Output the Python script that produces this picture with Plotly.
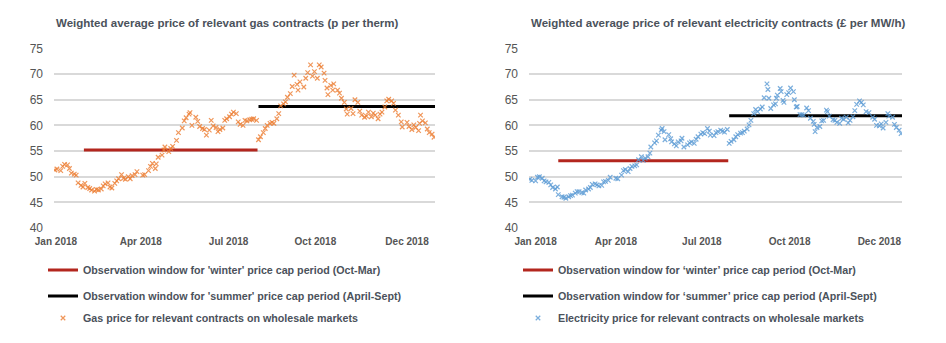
import plotly.graph_objects as go

# ---------------- data ----------------
gas_dates = [
    "2018-01-02", "2018-01-04", "2018-01-08", "2018-01-10", "2018-01-12", "2018-01-15", "2018-01-17", "2018-01-19",
    "2018-01-22", "2018-01-24", "2018-01-26", "2018-01-29", "2018-01-31", "2018-02-02", "2018-02-05", "2018-02-07",
    "2018-02-09", "2018-02-12", "2018-02-14", "2018-02-16", "2018-02-19", "2018-02-21", "2018-02-23", "2018-02-26",
    "2018-02-28", "2018-03-02", "2018-03-05", "2018-03-07", "2018-03-09", "2018-03-12", "2018-03-14", "2018-03-16",
    "2018-03-19", "2018-03-21", "2018-03-23", "2018-03-26", "2018-03-28", "2018-04-03", "2018-04-05", "2018-04-09",
    "2018-04-11", "2018-04-13", "2018-04-16", "2018-04-17", "2018-04-19", "2018-04-23", "2018-04-25", "2018-04-26",
    "2018-04-30", "2018-05-02", "2018-05-04", "2018-05-08", "2018-05-10", "2018-05-14", "2018-05-16", "2018-05-18",
    "2018-05-21", "2018-05-22", "2018-05-24", "2018-05-28", "2018-05-30", "2018-06-01", "2018-06-04", "2018-06-06",
    "2018-06-08", "2018-06-11", "2018-06-13", "2018-06-15", "2018-06-18", "2018-06-20", "2018-06-22", "2018-06-25",
    "2018-06-27", "2018-06-29", "2018-07-02", "2018-07-04", "2018-07-06", "2018-07-09", "2018-07-11", "2018-07-13",
    "2018-07-16", "2018-07-18", "2018-07-20", "2018-07-23", "2018-07-25", "2018-07-27", "2018-07-30", "2018-08-01",
    "2018-08-03", "2018-08-06", "2018-08-08", "2018-08-10", "2018-08-13", "2018-08-15", "2018-08-17", "2018-08-20",
    "2018-08-22", "2018-08-24", "2018-08-27", "2018-08-29", "2018-08-31", "2018-09-03", "2018-09-05", "2018-09-07",
    "2018-09-10", "2018-09-11", "2018-09-13", "2018-09-17", "2018-09-19", "2018-09-21", "2018-09-24", "2018-09-26",
    "2018-09-28", "2018-10-01", "2018-10-03", "2018-10-05", "2018-10-08", "2018-10-09", "2018-10-11", "2018-10-12",
    "2018-10-15", "2018-10-17", "2018-10-18", "2018-10-22", "2018-10-24", "2018-10-26", "2018-10-29", "2018-10-31",
    "2018-11-01", "2018-11-05", "2018-11-07", "2018-11-09", "2018-11-12", "2018-11-14", "2018-11-16", "2018-11-19",
    "2018-11-21", "2018-11-23", "2018-11-26", "2018-11-28", "2018-11-30", "2018-12-03", "2018-12-05", "2018-12-07",
    "2018-12-10", "2018-12-12", "2018-12-14", "2018-12-17", "2018-12-19", "2018-12-21", "2018-12-24", "2018-12-27",
    "2018-12-28", "2019-01-02", "2019-01-04", "2019-01-07", "2019-01-09", "2019-01-11", "2019-01-14", "2019-01-15",
    "2019-01-16", "2019-01-18", "2019-01-21", "2019-01-23", "2019-01-25", "2019-01-28", "2019-01-30",
]
gas_values = [
    51.3, 51.5, 51.2, 52.0, 52.4, 52.3, 51.6, 50.7,
    50.5, 50.3, 48.8, 48.3, 48.0, 48.7, 47.9, 47.7,
    47.4, 47.2, 47.5, 47.4, 47.6, 48.2, 48.6, 48.8,
    48.0, 47.8, 48.7, 49.2, 49.6, 50.4, 49.7, 49.5,
    50.0, 49.6, 50.2, 50.4, 51.0, 50.3, 50.4, 51.2,
    52.0, 52.6, 51.6, 52.5, 53.8, 54.2, 55.2, 55.8,
    54.9, 55.5, 55.9, 57.1, 58.6, 59.5, 60.9, 61.5,
    62.2, 62.5, 60.0, 61.6, 60.8, 59.8, 59.4, 59.2,
    58.1, 59.1, 61.0, 59.9, 59.6, 58.8, 59.2, 59.5,
    61.0, 61.3, 61.7, 62.2, 62.6, 62.3, 60.7, 60.2,
    60.0, 61.0, 60.9, 61.1, 61.2, 61.3, 61.0, 57.2,
    57.8, 58.6, 59.4, 60.0, 60.4, 60.6, 60.4, 61.3,
    62.3, 63.8, 64.2, 64.6, 65.5, 66.2, 67.6, 69.8,
    68.0, 66.9, 68.5, 67.5, 69.2, 70.3, 71.8, 69.6,
    70.5, 69.2, 71.8, 71.4, 70.2, 68.8, 67.3, 66.0,
    67.8, 66.9, 68.1, 66.9, 66.3, 65.3, 64.5, 63.2,
    62.2, 63.3, 62.3, 65.0, 64.5, 62.8, 62.0, 61.6,
    61.8, 62.6, 61.7, 62.4, 62.0, 61.3, 62.2, 62.6,
    63.6, 64.8, 65.1, 64.8, 64.3, 63.0, 62.0, 60.7,
    59.7, 60.6, 59.8, 59.2, 60.1, 59.6, 59.0, 60.4,
    62.0, 60.9, 60.5, 59.3, 58.6, 58.3, 57.7,
]

elec_dates = [
    "2018-01-02", "2018-01-04", "2018-01-08", "2018-01-10", "2018-01-12", "2018-01-15", "2018-01-17", "2018-01-19",
    "2018-01-22", "2018-01-24", "2018-01-26", "2018-01-29", "2018-01-31", "2018-02-01", "2018-02-05", "2018-02-07",
    "2018-02-09", "2018-02-12", "2018-02-14", "2018-02-16", "2018-02-19", "2018-02-21", "2018-02-23", "2018-02-26",
    "2018-02-28", "2018-03-02", "2018-03-05", "2018-03-07", "2018-03-09", "2018-03-12", "2018-03-14", "2018-03-16",
    "2018-03-19", "2018-03-21", "2018-03-23", "2018-03-26", "2018-03-28", "2018-04-03", "2018-04-05", "2018-04-09",
    "2018-04-11", "2018-04-13", "2018-04-16", "2018-04-18", "2018-04-20", "2018-04-23", "2018-04-25", "2018-04-27",
    "2018-04-30", "2018-05-02", "2018-05-04", "2018-05-07", "2018-05-09", "2018-05-10", "2018-05-14", "2018-05-16",
    "2018-05-18", "2018-05-21", "2018-05-22", "2018-05-24", "2018-05-25", "2018-05-29", "2018-05-31", "2018-06-01",
    "2018-06-04", "2018-06-06", "2018-06-08", "2018-06-11", "2018-06-12", "2018-06-14", "2018-06-18", "2018-06-20",
    "2018-06-22", "2018-06-25", "2018-06-27", "2018-06-29", "2018-07-02", "2018-07-04", "2018-07-06", "2018-07-09",
    "2018-07-11", "2018-07-12", "2018-07-16", "2018-07-18", "2018-07-20", "2018-07-23", "2018-07-25", "2018-07-27",
    "2018-07-30", "2018-08-01", "2018-08-03", "2018-08-06", "2018-08-08", "2018-08-10", "2018-08-13", "2018-08-15",
    "2018-08-17", "2018-08-20", "2018-08-22", "2018-08-24", "2018-08-27", "2018-08-29", "2018-08-31", "2018-09-03",
    "2018-09-05", "2018-09-07", "2018-09-10", "2018-09-11", "2018-09-12", "2018-09-14", "2018-09-17", "2018-09-19",
    "2018-09-20", "2018-09-21", "2018-09-24", "2018-09-25", "2018-09-27", "2018-09-28", "2018-10-01", "2018-10-03",
    "2018-10-05", "2018-10-08", "2018-10-09", "2018-10-11", "2018-10-12", "2018-10-15", "2018-10-17", "2018-10-19",
    "2018-10-22", "2018-10-24", "2018-10-26", "2018-10-29", "2018-10-30", "2018-10-31", "2018-11-02", "2018-11-05",
    "2018-11-07", "2018-11-09", "2018-11-12", "2018-11-13", "2018-11-15", "2018-11-19", "2018-11-21", "2018-11-23",
    "2018-11-26", "2018-11-28", "2018-11-30", "2018-12-03", "2018-12-05", "2018-12-07", "2018-12-10", "2018-12-12",
    "2018-12-14", "2018-12-17", "2018-12-19", "2018-12-21", "2018-12-24", "2018-12-27", "2018-12-31", "2019-01-02",
    "2019-01-04", "2019-01-07", "2019-01-09", "2019-01-11", "2019-01-14", "2019-01-16", "2019-01-17", "2019-01-21",
    "2019-01-23", "2019-01-25", "2019-01-28", "2019-01-30",
]
elec_values = [
    49.5, 49.3, 49.2, 49.9, 50.0, 49.7, 49.2, 49.0,
    48.9, 48.4, 47.9, 47.6, 48.0, 46.5, 46.1, 46.0,
    45.8, 46.1, 46.3, 46.4, 46.8, 47.1, 47.1, 46.9,
    46.8, 47.4, 47.6, 47.9, 48.5, 48.6, 48.4, 48.2,
    48.3, 49.0, 49.1, 49.3, 49.9, 49.7, 49.6, 50.3,
    51.2, 51.4, 51.0, 51.6, 52.0, 52.1, 52.3, 53.3,
    53.9, 53.2, 53.6, 53.9, 54.6, 55.8, 56.6, 57.0,
    58.1, 59.1, 59.4, 58.8, 57.2, 58.2, 57.4, 56.8,
    56.4, 56.0, 56.8, 57.0, 57.5, 55.8, 56.2, 56.6,
    56.8, 56.5, 57.3, 57.8, 58.3, 58.6, 58.4, 59.4,
    58.9, 58.1, 58.0, 58.6, 58.8, 59.1, 58.9, 58.7,
    59.2, 56.5, 56.9, 57.2, 57.8, 58.2, 58.5, 58.6,
    58.9, 59.3, 60.1, 61.0, 62.3, 63.1, 62.7, 63.2,
    63.6, 65.4, 68.1, 67.0, 65.3, 63.3, 64.0, 64.2,
    65.3, 65.9, 67.2, 66.6, 64.9, 64.5, 66.0, 66.4,
    67.3, 66.6, 65.0, 63.6, 63.7, 62.1, 62.1, 62.0,
    63.4, 62.9, 61.4, 60.8, 60.2, 58.8, 59.6, 59.8,
    60.9, 61.0, 63.0, 62.7, 61.8, 61.1, 61.0, 60.6,
    60.4, 61.4, 61.2, 61.6, 60.5, 61.0, 61.7, 62.9,
    64.1, 64.8, 64.5, 64.0, 62.7, 62.5, 61.6, 61.2,
    60.0, 59.9, 60.3, 59.5, 60.6, 62.3, 61.8, 61.6,
    60.2, 59.6, 59.1, 58.4,
]

winter_window = ["2018-02-01", "2018-07-31"]
summer_window = ["2018-08-01", "2019-01-31"]
gas_winter_level = 55.2
gas_summer_level = 63.7
elec_winter_level = 53.1
elec_summer_level = 61.9

tick_labels = ["Jan 2018", "Apr 2018", "Jul 2018", "Oct 2018", "Dec 2018"]
gas_tick_dates = ["2018-01-03", "2018-04-01", "2018-07-01", "2018-09-29", "2019-01-02"]
elec_tick_dates = ["2018-01-08", "2018-04-03", "2018-07-03", "2018-10-04", "2019-01-07"]
x_range = ["2018-01-01", "2019-01-31"]
y_ticks = [40, 45, 50, 55, 60, 65, 70, 75]

titles = [
    "Weighted average price of relevant gas contracts (p per therm)",
    "Weighted average price of relevant electricity contracts (£ per MW/h)",
]
legend_winter_gas = "Observation window for 'winter' price cap period (Oct-Mar)"
legend_summer_gas = "Observation window for 'summer' price cap period (April-Sept)"
legend_gas = "Gas price for relevant contracts on wholesale markets"
legend_winter_elec = "Observation window for \u2018winter\u2019 price cap period (Oct-Mar)"
legend_summer_elec = "Observation window for \u2018summer\u2019 price cap period (April-Sept)"
legend_elec = "Electricity price for relevant contracts on wholesale markets"

# ---------------- style ----------------
W, H = 946, 343
FONT = "Liberation Sans, Arial, sans-serif"
TXT = "#4b525b"
TICK = "#555555"
GRID = "#d9d9d9"
RED = "#b3261e"
BLACK = "#000000"
ORANGE = "#ed7d31"
BLUE = "#5b9bd5"


def px_x(p):
    return p / W


def px_y(p):
    return 1 - p / H


fig = go.Figure()

panels = [
    dict(xa="x", ya="y", dates=gas_dates, vals=gas_values, color=ORANGE,
         wl=gas_winter_level, sl=gas_summer_level, name=legend_gas,
         lw=legend_winter_gas, ls=legend_summer_gas, legs=["legend2", "legend3", "legend4"]),
    dict(xa="x2", ya="y2", dates=elec_dates, vals=elec_values, color=BLUE,
         wl=elec_winter_level, sl=elec_summer_level, name=legend_elec,
         lw=legend_winter_elec, ls=legend_summer_elec, legs=["legend5", "legend6", "legend7"]),
]

for p in panels:
    fig.add_trace(go.Scatter(
        x=winter_window, y=[p["wl"], p["wl"]], mode="lines",
        line=dict(color=RED, width=3), name=p["lw"],
        xaxis=p["xa"], yaxis=p["ya"], legend=p["legs"][0]))
    fig.add_trace(go.Scatter(
        x=summer_window, y=[p["sl"], p["sl"]], mode="lines",
        line=dict(color=BLACK, width=3), name=p["ls"],
        xaxis=p["xa"], yaxis=p["ya"], legend=p["legs"][1]))
    fig.add_trace(go.Scatter(
        x=p["dates"], y=p["vals"], mode="markers",
        marker=dict(symbol="x-thin", size=4.5, color=p["color"],
                    line=dict(color=p["color"], width=1.2), opacity=0.8),
        name=p["name"], xaxis=p["xa"], yaxis=p["ya"], legend=p["legs"][2]))

axis_common_x = dict(
    type="date", range=x_range, showgrid=False, zeroline=False, showline=False,
    ticks="", tickmode="array", ticktext=tick_labels, automargin=False,
    tickfont=dict(family=FONT, size=10, color=TICK, weight="bold"), ticklabelstandoff=5,
)
axis_common_y = dict(
    range=[39.9, 75.1], tickmode="array", tickvals=y_ticks, showgrid=True,
    gridcolor=GRID, gridwidth=1.6, zeroline=False, showline=False, ticks="",
    automargin=False,
    tickfont=dict(family=FONT, size=12, color=TICK), ticklabelstandoff=10,
)

ydom = [px_y(228.5), px_y(48.0)]
fig.update_layout(
    width=W, height=H,
    margin=dict(l=0, r=0, t=0, b=0, pad=0, autoexpand=False),
    paper_bgcolor="white", plot_bgcolor="white",
    font=dict(family=FONT, color=TXT),
    showlegend=True,
    xaxis=dict(axis_common_x, domain=[px_x(54), px_x(435)], anchor="y", tickvals=gas_tick_dates),
    yaxis=dict(axis_common_y, domain=ydom, anchor="x"),
    xaxis2=dict(axis_common_x, domain=[px_x(529), px_x(902)], anchor="y2", tickvals=elec_tick_dates),
    yaxis2=dict(axis_common_y, domain=ydom, anchor="x2"),
)

leg_style = dict(font=dict(family=FONT, size=10.7, color=TXT, weight="bold"),
                 bgcolor="rgba(0,0,0,0)", xanchor="left", yanchor="middle",
                 itemwidth=30, visible=True)
leg_rows = [270, 296, 318]
leg_x = [43, 518]
layout_legs = {}
for i, px0 in enumerate(leg_x):
    for j, row in enumerate(leg_rows):
        key = panels[i]["legs"][j]
        layout_legs[key] = dict(leg_style, x=px_x(px0), y=px_y(row))
fig.update_layout(**layout_legs)

for t, px0 in zip(titles, [54, 529]):
    fig.add_annotation(text=t, x=px_x(px0), y=px_y(23.5), xref="paper", yref="paper",
                       xanchor="left", yanchor="middle", showarrow=False,
                       font=dict(family=FONT, size=11.5, color=TXT, weight="bold"))

fig.write_html("out.html")
